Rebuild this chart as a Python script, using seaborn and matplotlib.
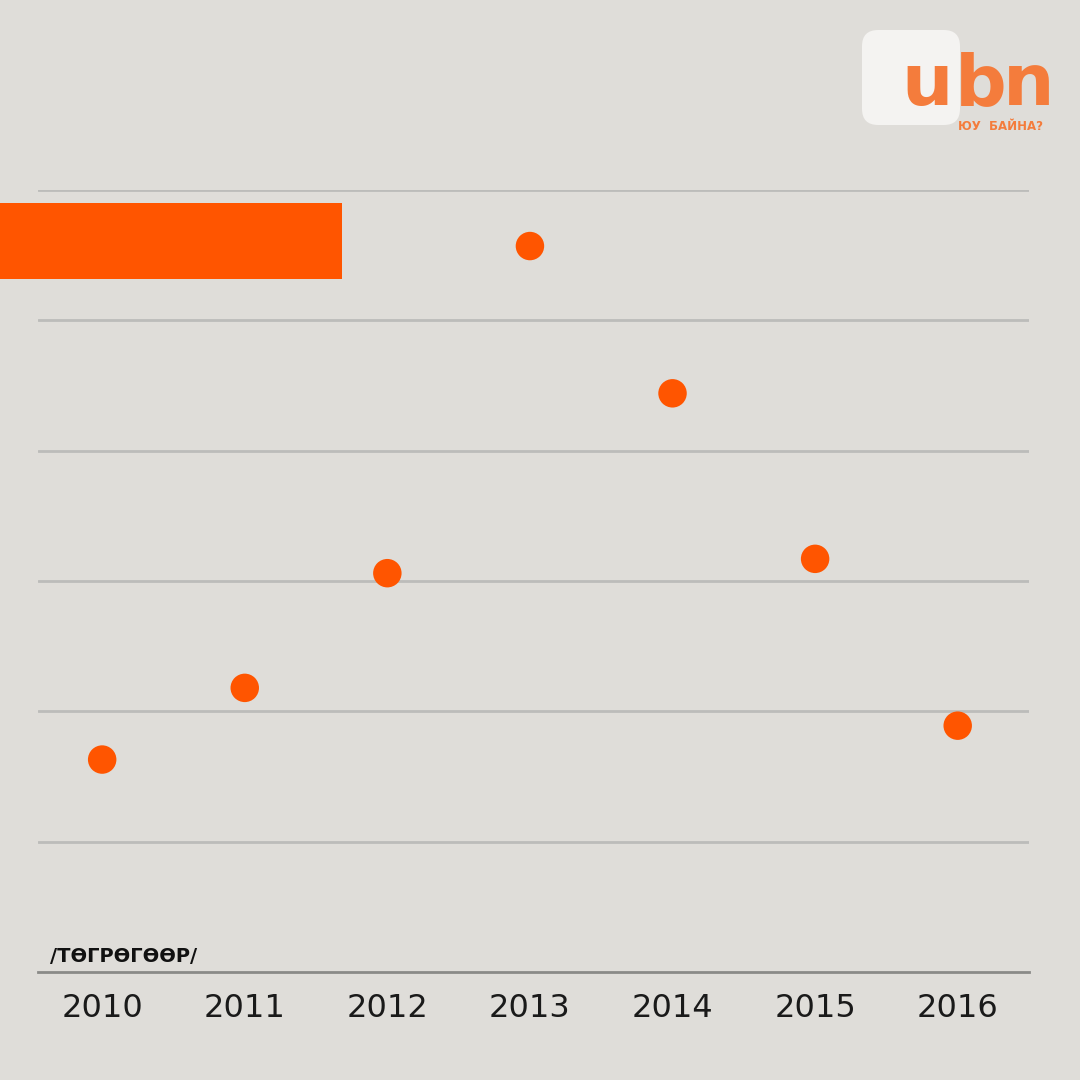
import matplotlib
matplotlib.use("Agg")
import matplotlib.pyplot as plt
import seaborn as sns
import pandas as pd
from matplotlib.patches import Rectangle, FancyBboxPatch

years = ["2010", "2011", "2012", "2013", "2014", "2015", "2016"]
values = [1.63, 2.18, 3.06, 5.57, 4.44, 3.17, 1.89]
unit_label = "/ТӨГРӨГӨӨР/"

BG = "#dfddd9"
ORANGE = "#ff5500"
LOGO = "#f47c3c"

sns.set_theme(style="white")
plt.rcParams['font.family'] = ['DejaVu Sans']

fig = plt.figure(figsize=(10.8, 10.8), dpi=100, facecolor=BG)
ax = fig.add_axes([38/1080, 0.1, (1029-38)/1080, (972-190)/1080])
ax.set_facecolor(BG)

df = pd.DataFrame({"year": years, "value": values})
sns.scatterplot(data=df, x="year", y="value", ax=ax, s=420, color=ORANGE,
                edgecolor="none", zorder=3, clip_on=False)

ax.set_xlim(-0.45, 6.5)
ax.set_ylim(0, 6)
ax.set_yticks([1, 2, 3, 4, 5, 6])
ax.yaxis.grid(True, color="#bcbcba", linewidth=2)
ax.set_yticklabels([])
ax.tick_params(axis="y", length=0)
ax.tick_params(axis="x", length=0, pad=15)
for lab in ax.get_xticklabels():
    lab.set_fontsize(23)
    lab.set_color("#1a1a1a")
for s in ["top", "right", "left"]:
    ax.spines[s].set_visible(False)
ax.spines["bottom"].set_color("#8a8a88")
ax.spines["bottom"].set_linewidth(2)
ax.set_xlabel("")
ax.set_ylabel("")

fig.text(50/1080, 1 - 956/1080, unit_label, fontsize=14, fontweight="bold",
         color="#111111", va="center", ha="left")

# orange banner
fig.patches.append(Rectangle((0, 1 - 279/1080), 342/1080, 76/1080,
                             transform=fig.transFigure, facecolor=ORANGE,
                             edgecolor="none", zorder=5))

# logo
fig.patches.append(FancyBboxPatch((862/1080, 1 - 125/1080), 98/1080, 95/1080,
                                  boxstyle="round,pad=0,rounding_size=0.015",
                                  transform=fig.transFigure, facecolor="#f4f3f1",
                                  edgecolor="none", zorder=5))
fig.text(927/1080, 1 - 105/1080, "u", fontsize=52, color=LOGO,
         ha="center", va="baseline", fontweight="bold", zorder=6)
fig.text(981/1080, 1 - 105/1080, "b", fontsize=52, color=LOGO,
         ha="center", va="baseline", fontweight="bold", zorder=6)
fig.text(1029/1080, 1 - 105/1080, "n", fontsize=52, color=LOGO,
         ha="center", va="baseline", fontweight="bold", zorder=6)
fig.text(958/1080, 1 - 130/1080, "ЮУ  БАЙНА?", fontsize=8.5, color=LOGO,
         ha="left", va="baseline", fontweight="bold", zorder=6)

fig.savefig("out.png", dpi=100, facecolor=BG)
